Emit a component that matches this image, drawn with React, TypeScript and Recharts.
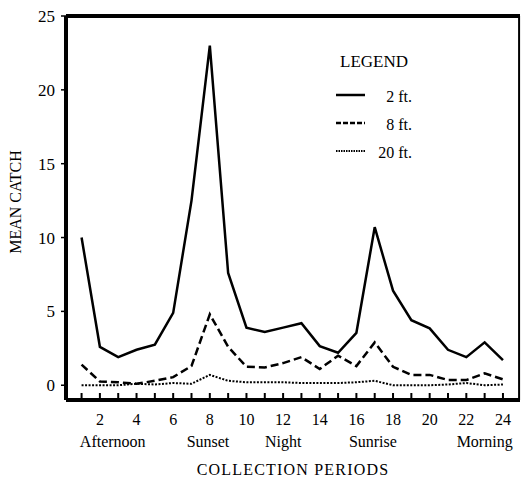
import React from "react"
import { LineChart, Line, XAxis, YAxis, Label, ReferenceLine } from "recharts"

const periods = [1, 2, 3, 4, 5, 6, 7, 8, 9, 10, 11, 12, 13, 14, 15, 16, 17, 18, 19, 20, 21, 22, 23, 24]
const twoFt = [10, 2.6, 1.9, 2.4, 2.75, 4.9, 12.5, 23, 7.6, 3.9, 3.6, 3.9, 4.2, 2.65, 2.2, 3.55, 10.7, 6.4, 4.4, 3.85, 2.4, 1.9, 2.9, 1.7]
const eightFt = [1.4, 0.25, 0.2, 0.1, 0.3, 0.55, 1.3, 4.8, 2.6, 1.25, 1.2, 1.5, 1.9, 1.1, 2.0, 1.3, 2.9, 1.25, 0.7, 0.7, 0.35, 0.35, 0.8, 0.4]
const twentyFt = [0, 0, 0, 0.1, 0.05, 0.15, 0.1, 0.7, 0.3, 0.2, 0.2, 0.2, 0.15, 0.15, 0.15, 0.2, 0.3, 0, 0, 0, 0.05, 0.15, 0, 0.05]

const yTicks = [0, 5, 10, 15, 20, 25]
const periodNames = ["Afternoon", "Sunset", "Night", "Sunrise", "Morning"]
const periodPositions = [2.7, 7.9, 12, 16.9, 23]

const data = periods.map((p, i) => ({
  period: p,
  ft2: twoFt[i],
  ft8: eightFt[i],
  ft20: twentyFt[i],
}))

const font = '"Liberation Serif", "Times New Roman", serif'
const xDomain = [0.15, 24.93]

const legendRows = [
  { label: "2 ft.", dash: undefined, width: 2.5 },
  { label: "8 ft.", dash: "5 2", width: 2.5 },
  { label: "20 ft.", dash: "1.5 1", width: 2 },
]

function HourTick(props: any) {
  const { x, y, payload } = props
  const v = payload.value
  return (
    <g>
      <line x1={x} x2={x} y1={y - 7} y2={y} stroke="#000" strokeWidth={2} />
      {v % 2 === 0 && (
        <text x={x} y={y + 25} textAnchor="middle" fontSize={16} fontFamily={font} fill="#000">
          {v}
        </text>
      )}
    </g>
  )
}

function LegendBox() {
  return (
    <svg
      width={100}
      height={120}
      style={{ position: "absolute", left: 330, top: 50, overflow: "visible" }}
      fontFamily={font}
    >
      <text x={10} y={17} fontSize={17} fill="#000">LEGEND</text>
      {legendRows.map((r, i) => (
        <g key={r.label}>
          <line x1={6} x2={35} y1={45 + i * 28} y2={45 + i * 28} stroke="#000" strokeWidth={r.width} strokeDasharray={r.dash} />
          <text x={82} y={52 + i * 28} fontSize={16} textAnchor="end" fill="#000">{r.label}</text>
        </g>
      ))}
    </svg>
  )
}

export default function App() {
  return (
    <div style={{ position: "relative", width: 523, height: 482, background: "#fff", overflow: "hidden" }}>
      <style>{"html, body { margin: 0; padding: 0; overflow: hidden; }"}</style>
      <LineChart width={523} height={482} data={data} margin={{ top: 16, right: 3, bottom: 0, left: 0 }}>
        <XAxis
          dataKey="period"
          type="number"
          domain={xDomain}
          ticks={periods}
          interval={0}
          tick={<HourTick />}
          tickLine={false}
          tickSize={0}
          tickMargin={0}
          height={30}
          axisLine={{ stroke: "#000", strokeWidth: 4 }}
        />
        <XAxis
          xAxisId="period"
          dataKey="period"
          type="number"
          domain={xDomain}
          ticks={periodPositions}
          interval={0}
          tickFormatter={(v: number) => periodNames[periodPositions.indexOf(v)]}
          tick={{ fontSize: 16, fontFamily: font, fill: "#000" }}
          tickLine={false}
          tickSize={0}
          tickMargin={6}
          axisLine={false}
          height={52}
        >
          <Label
            value="COLLECTION PERIODS"
            position="insideBottom"
            offset={7}
            style={{ fontSize: 16, fontFamily: font, fill: "#000", letterSpacing: 1.2 }}
          />
        </XAxis>
        <YAxis
          type="number"
          domain={[-1, 25]}
          ticks={yTicks}
          interval={0}
          width={66}
          tickSize={5}
          tickMargin={6}
          tick={{ fontSize: 17, fontFamily: font, fill: "#000" }}
          tickLine={{ stroke: "#000", strokeWidth: 1.5 }}
          axisLine={{ stroke: "#000", strokeWidth: 4 }}
        >
          <Label
            value="MEAN CATCH"
            angle={-90}
            position="insideLeft"
            offset={15}
            dy={-6}
            style={{ fontSize: 16, fontFamily: font, fill: "#000", textAnchor: "middle" }}
          />
        </YAxis>
        <ReferenceLine y={25} stroke="#000" strokeWidth={4} ifOverflow="visible" />
        <ReferenceLine x={24.88} stroke="#000" strokeWidth={2} />
        <Line type="linear" dataKey="ft2" stroke="#000" strokeWidth={2.5} dot={false} isAnimationActive={false} />
        <Line type="linear" dataKey="ft8" stroke="#000" strokeWidth={2.5} strokeDasharray="8 4" dot={false} isAnimationActive={false} />
        <Line type="linear" dataKey="ft20" stroke="#000" strokeWidth={2} strokeDasharray="2 1.5" dot={false} isAnimationActive={false} />
      </LineChart>
      <LegendBox />
    </div>
  )
}
